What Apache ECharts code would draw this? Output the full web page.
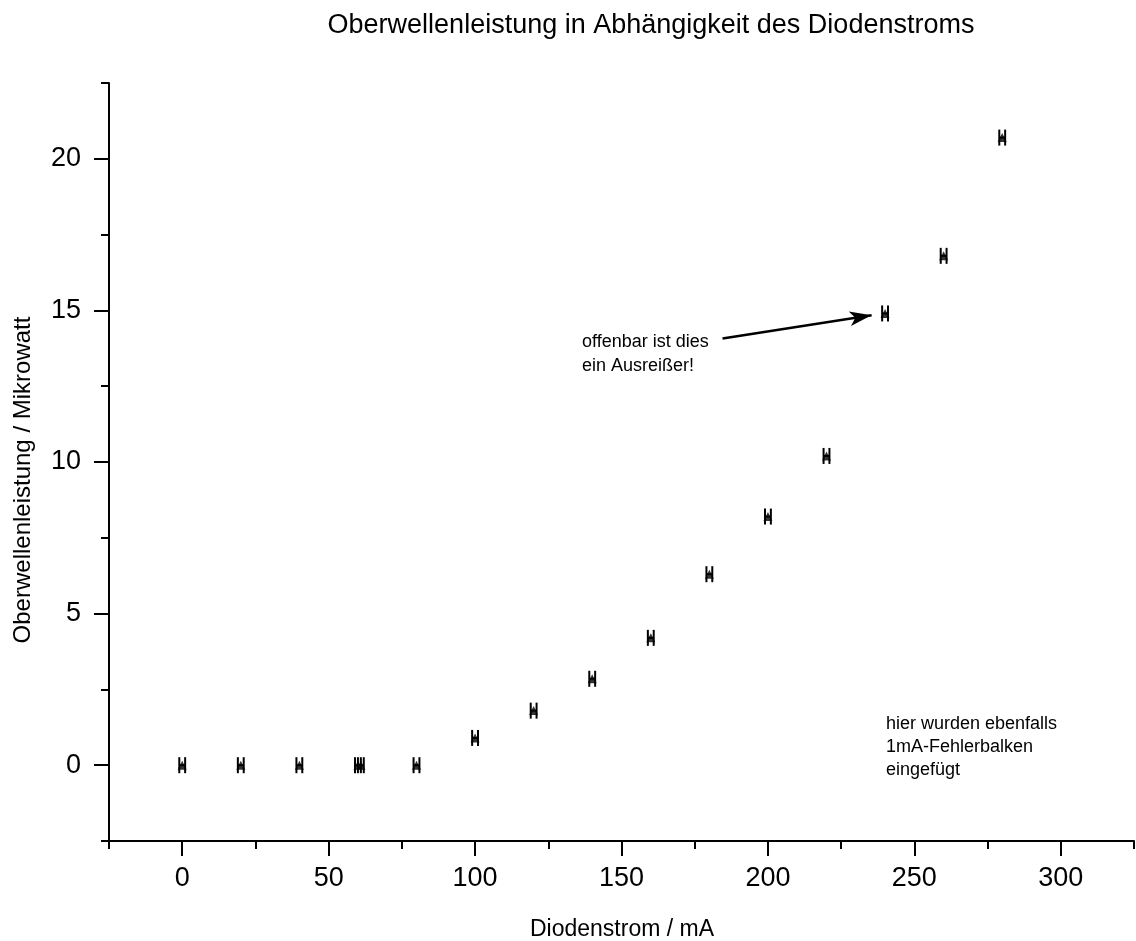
<!DOCTYPE html>
<html><head><meta charset="utf-8">
<script src="https://cdn.jsdelivr.net/npm/echarts@6/dist/echarts.min.js"></script>
<style>html,body{margin:0;padding:0;background:#fff}#c{width:1136px;height:941px}</style>
</head><body><div id="c"></div>
<script>
// ---- data ----
const current = [0, 20, 40, 60, 61, 80, 100, 120, 140, 160, 180, 200, 220, 240, 260, 280]; // mA
const power = [0, 0, 0, 0, 0, 0, 0.9, 1.8, 2.85, 4.2, 6.3, 8.2, 10.2, 14.9, 16.8, 20.7]; // µW
const currentError = 1; // ±1 mA
const xTickValues = [0, 50, 100, 150, 200, 250, 300];
const yTickValues = [0, 5, 10, 15, 20];
const arrowFrom = [184.5, 14.07];
const arrowTo = [235.4, 14.84];
const titleText = 'Oberwellenleistung in Abhängigkeit des Diodenstroms';
const xName = 'Diodenstrom / mA';
const yName = 'Oberwellenleistung / Mikrowatt';
const note1 = 'offenbar ist dies\nein Ausreißer!';
const note2 = 'hier wurden ebenfalls\n1mA-Fehlerbalken\neingefügt';

// ---- layout ----
const FONT = '"Liberation Sans", Arial, sans-serif';
const W = 1136, H = 941;
const X_MIN = -25, X_MAX = 325, X_MINOR = 25, X_MAJOR = 50;
const Y_MIN = -2.5, Y_MAX = 22.5, Y_MINOR = 2.5, Y_MAJOR = 5;
const L = 109, R = 1134, T = 83, B = 841;
const pxX = (R - L) / (X_MAX - X_MIN), pxY = (B - T) / (Y_MAX - Y_MIN);
const x0 = L + (xTickValues[0] - X_MIN) * pxX;
const x1 = L + (xTickValues[xTickValues.length - 1] - X_MIN) * pxX;
const y0 = B - (yTickValues[0] - Y_MIN) * pxY;
const y1 = B - (yTickValues[yTickValues.length - 1] - Y_MIN) * pxY;

const chart = echarts.init(document.getElementById('c'), null, {renderer: 'canvas'});
const axisColor = '#000';
chart.setOption({
  animation: false,
  backgroundColor: '#fff',
  textStyle: {fontFamily: FONT},
  grid: [
    {left: L, right: W - R, top: T, bottom: H - B},
    {left: x0, right: W - x1, top: y1, bottom: H - y0}
  ],
  xAxis: [
    {type: 'value', gridIndex: 0, min: X_MIN, max: X_MAX, interval: X_MINOR,
     axisLine: {show: true, onZero: false, lineStyle: {color: axisColor, width: 2}},
     axisTick: {show: true, length: 8, lineStyle: {color: axisColor, width: 2}},
     axisLabel: {show: false}, splitLine: {show: false}},
    {type: 'value', gridIndex: 1, min: xTickValues[0], max: xTickValues[xTickValues.length - 1], interval: X_MAJOR,
     position: 'bottom', offset: B - y0,
     axisLine: {show: false, onZero: false},
     axisTick: {show: true, length: 15, lineStyle: {color: axisColor, width: 2}},
     axisLabel: {show: true, margin: 24, fontSize: 27, color: '#000', fontFamily: FONT},
     splitLine: {show: false}}
  ],
  yAxis: [
    {type: 'value', gridIndex: 0, min: Y_MIN, max: Y_MAX, interval: Y_MINOR,
     axisLine: {show: true, onZero: false, lineStyle: {color: axisColor, width: 2}},
     axisTick: {show: true, length: 8, lineStyle: {color: axisColor, width: 2}},
     axisLabel: {show: false}, splitLine: {show: false}},
    {type: 'value', gridIndex: 1, min: yTickValues[0], max: yTickValues[yTickValues.length - 1], interval: Y_MAJOR,
     position: 'left', offset: x0 - L,
     axisLine: {show: false, onZero: false},
     axisTick: {show: true, length: 15, lineStyle: {color: axisColor, width: 2}},
     axisLabel: {show: true, margin: 28, fontSize: 27, color: '#000', fontFamily: FONT},
     splitLine: {show: false}}
  ],
  graphic: [
    {type: 'text', x: 651, y: 26, style: {text: titleText, font: '27px ' + FONT, fill: '#000', textAlign: 'center', textVerticalAlign: 'middle'}},
    {type: 'text', x: 622, y: 930, style: {text: xName, font: '23px ' + FONT, fill: '#000', textAlign: 'center', textVerticalAlign: 'middle'}},
    {type: 'text', x: 23, y: 480, rotation: Math.PI / 2, style: {text: yName, font: '24px ' + FONT, fill: '#000', textAlign: 'center', textVerticalAlign: 'middle'}},
    {type: 'text', x: 582, y: 330, style: {text: note1, font: '18px ' + FONT, fill: '#000', lineHeight: 24}},
    {type: 'text', x: 886, y: 713, style: {text: note2, font: '18px ' + FONT, fill: '#000', lineHeight: 23}}
  ],
  series: [
    {
      type: 'custom', xAxisIndex: 0, yAxisIndex: 0, silent: true,
      data: current.map((c, i) => [c, power[i], currentError]),
      renderItem: function (params, api) {
        const x = api.value(0), y = api.value(1), e = api.value(2);
        const p0 = api.coord([x - e, y]), p1 = api.coord([x + e, y]);
        const h = 8;
        const st = {stroke: '#000', lineWidth: 2};
        return {type: 'group', children: [
          {type: 'line', shape: {x1: p0[0], y1: p0[1], x2: p1[0], y2: p1[1]}, style: st},
          {type: 'line', shape: {x1: p0[0], y1: p0[1] - h, x2: p0[0], y2: p0[1] + h}, style: st},
          {type: 'line', shape: {x1: p1[0], y1: p1[1] - h, x2: p1[0], y2: p1[1] + h}, style: st}
        ]};
      },
      markLine: {
        silent: true, symbol: ['none', 'arrow'],
        label: {show: false},
        lineStyle: {color: '#000', width: 2.5, type: 'solid'},
        data: [[{coord: arrowFrom, symbol: 'none'}, {coord: arrowTo, symbol: 'arrow', symbolSize: [11, 22]}]]
      }
    },
    {
      type: 'scatter', xAxisIndex: 0, yAxisIndex: 0, silent: true,
      symbol: 'triangle', symbolSize: 9,
      itemStyle: {color: '#000'},
      data: current.map((c, i) => [c, power[i]])
    }
  ]
});
</script>
</body></html>
